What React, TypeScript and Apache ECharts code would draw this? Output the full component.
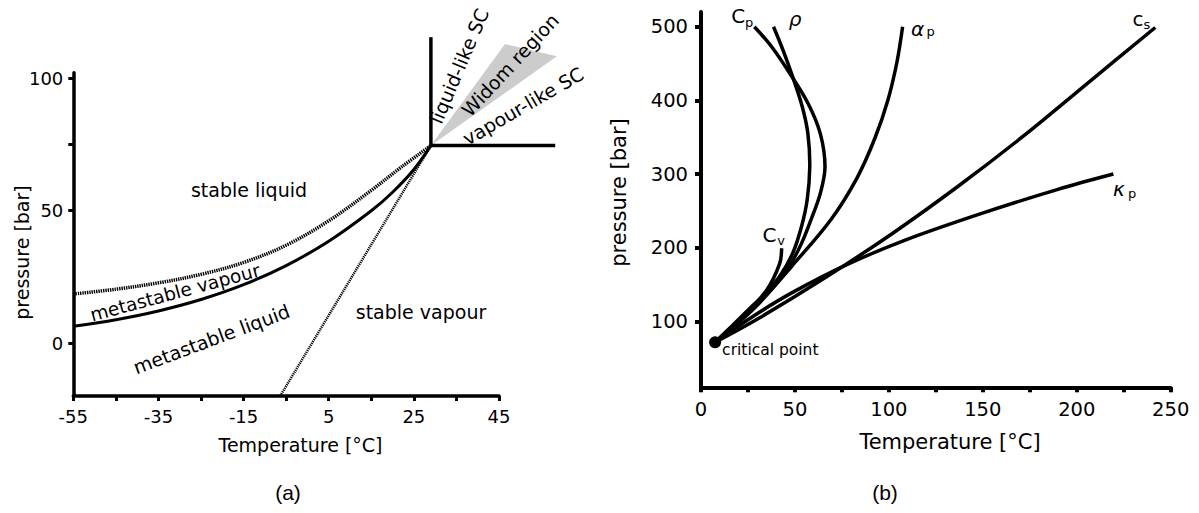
import React, { useEffect, useRef } from "react";
import * as echarts from "echarts";

// ---------- Panel (a): CO2 phase diagram ----------
const aXTicks = [-55, -45, -35, -25, -15, -5, 5, 15, 25, 35, 45];
const aXLabels = [-55, -35, -15, 5, 25, 45];
const aYTicks = [0, 50, 75, 100];
const aYLabels = [0, 50, 100];

const satT = [-55, -45, -35, -25, -15, -5, 5, 15, 20, 25, 29];
const satP = [6.3, 8.8, 12.1, 16.4, 22, 29.2, 38.4, 49.9, 56.9, 65.5, 74.5];

const spinT = [-55, -45, -35, -25, -15, -5, 5, 15, 22, 29];
const spinP = [18.5, 20.3, 22.7, 25.9, 30.4, 36.9, 46.1, 57.6, 66.3, 74.5];

const dottedLineT = [-6.4, 29];
const dottedLineP = [-20, 74.5];

const liquidSCT = [29, 29];
const liquidSCP = [74.5, 115.4];
const vapourSCT = [29, 58.2];
const vapourSCP = [74.5, 74.5];

const widomT = [29, 46.4, 58.6];
const widomP = [74.5, 112.8, 108.2];

// ---------- Panel (b): response-function maxima lines ----------
const bXTicks = [0, 25, 50, 75, 100, 125, 150, 175, 200, 225, 250];
const bXLabels = [0, 50, 100, 150, 200, 250];
const bYTicks = [100, 200, 300, 400, 500];

const critT = [7.5];
const critP = [72];

const cpT = [7.5, 15.2, 25.5, 38, 47.8, 53.5, 58.5, 63.5, 66, 63.5, 57, 46.7, 37.6, 28.4];
const cpP = [72, 91, 117, 147.5, 179, 206.2, 237.9, 274, 310, 355, 396, 439, 472.9, 500];

const rhoT = [7.5, 19.3, 31.5, 41.7, 48.8, 53.5, 56.5, 57.9, 56.9, 53.9, 48.8, 43.7, 38.6];
const rhoP = [72, 100, 129.4, 161, 192.7, 229, 265, 310, 355, 391.5, 432, 468, 500];

const cvT = [7.5, 20.8, 35, 41.9, 42.9];
const cvP = [72, 102.3, 143, 179, 199.5];

const alphaT = [7.5, 28.5, 48.4, 69, 83, 92.6, 99.5, 104.3, 107.3];
const alphaP = [72, 118.6, 175.5, 237.9, 294.8, 349.1, 400.7, 452.2, 500];

const csT = [7.5, 31, 66, 101.5, 136.5, 171.5, 206.5, 241.8];
const csP = [72, 105, 159.5, 219, 283, 351.5, 425, 499];

const kappaT = [7.5, 27.4, 47.8, 78.2, 108.7, 149.4, 190, 219.5];
const kappaP = [72, 106.8, 138.4, 178, 210.7, 246.9, 279.5, 300.2];

const zip = (xs: number[], ys: number[]) => xs.map((x, i) => [x, ys[i]]);

const FONT = "DejaVu Sans";

function txt(
  text: string,
  x: number,
  y: number,
  size: number,
  rotDeg = 0,
  extra: any = {}
) {
  return {
    type: "text",
    x,
    y,
    rotation: (rotDeg * Math.PI) / 180,
    z: 100,
    silent: true,
    style: {
      text,
      fill: "#000",
      fontSize: size,
      fontFamily: FONT,
      align: "center",
      verticalAlign: "middle",
      textAlign: "center",
      textVerticalAlign: "middle",
      ...extra,
    },
  };
}

function curve(
  T: number[],
  P: number[],
  axis: number,
  width: number,
  dash: number[] | null = null,
  smooth = 0.35,
  clip = true
) {
  return {
    type: "custom",
    xAxisIndex: axis,
    yAxisIndex: axis,
    clip,
    silent: true,
    z: 3,
    data: [[T[0], P[0]]],
    renderItem: (_params: any, api: any) => ({
      type: "polyline",
      shape: {
        points: T.map((t, i) => api.coord([t, P[i]])),
        smooth,
      },
      style: {
        stroke: "#000",
        fill: "none",
        lineWidth: width,
        lineDash: dash || undefined,
        lineCap: "butt",
        lineJoin: "round",
      },
    }),
  };
}

export default function App() {
  const ref = useRef<HTMLDivElement>(null);

  useEffect(() => {
    if (!ref.current) return;
    const chart = echarts.init(ref.current, undefined, { renderer: "svg" });

    const axisBase = (width: number) => ({
      axisLine: { show: true, onZero: false, lineStyle: { color: "#000", width } },
      splitLine: { show: false },
    });

    const option: any = {
      animation: false,
      backgroundColor: "#fff",
      grid: [
        { left: 73.3, top: 72.7, width: 425.7, height: 323.3 },
        { left: 701, top: 12, width: 469.7, height: 375.3 },
      ],
      xAxis: [
        {
          type: "value",
          gridIndex: 0,
          min: -55,
          max: 45,
          ...axisBase(3.5),
          axisTick: {
            show: true,
            customValues: aXTicks,
            length: 5,
            lineStyle: { color: "#000", width: 3 },
          },
          axisLabel: {
            customValues: aXLabels,
            margin: 11,
            fontSize: 18,
            color: "#000",
            fontFamily: FONT,
          },
        },
        {
          type: "value",
          gridIndex: 1,
          min: 0,
          max: 250,
          ...axisBase(4),
          axisTick: {
            show: true,
            customValues: bXTicks,
            length: 5,
            lineStyle: { color: "#000", width: 4 },
          },
          axisLabel: {
            customValues: bXLabels,
            margin: 12,
            fontSize: 19.5,
            color: "#000",
            fontFamily: FONT,
          },
        },
      ],
      yAxis: [
        {
          type: "value",
          gridIndex: 0,
          min: -20,
          max: 102,
          ...axisBase(3.5),
          axisTick: {
            show: true,
            customValues: aYTicks,
            length: 5,
            lineStyle: { color: "#000", width: 3 },
          },
          axisLabel: {
            customValues: aYLabels,
            margin: 10,
            fontSize: 18,
            color: "#000",
            fontFamily: FONT,
          },
        },
        {
          type: "value",
          gridIndex: 1,
          min: 11,
          max: 520,
          ...axisBase(4),
          axisTick: {
            show: true,
            customValues: bYTicks,
            length: 6,
            lineStyle: { color: "#000", width: 4 },
          },
          axisLabel: {
            customValues: bYTicks,
            margin: 13,
            fontSize: 19.5,
            color: "#000",
            fontFamily: FONT,
          },
        },
      ],
      series: [
        {
          type: "custom",
          xAxisIndex: 0,
          yAxisIndex: 0,
          clip: false,
          silent: true,
          z: 1,
          data: [[widomT[0], widomP[0]]],
          renderItem: (_params: any, api: any) => ({
            type: "polygon",
            shape: { points: widomT.map((t, i) => api.coord([t, widomP[i]])) },
            style: { fill: "#cccccc" },
          }),
        },
        curve(satT, satP, 0, 3),
        curve(spinT, spinP, 0, 3.5, [1.4, 0.9]),
        curve(dottedLineT, dottedLineP, 0, 2.5, [1.2, 0.9], 0),
        curve(liquidSCT, liquidSCP, 0, 3.5, null, 0, false),
        curve(vapourSCT, vapourSCP, 0, 3.5, null, 0, false),

        curve(cpT, cpP, 1, 3.5),
        curve(rhoT, rhoP, 1, 3.5),
        curve(cvT, cvP, 1, 3.5),
        curve(alphaT, alphaP, 1, 3.5),
        curve(csT, csP, 1, 3.5),
        curve(kappaT, kappaP, 1, 3.5),
        {
          type: "scatter",
          xAxisIndex: 1,
          yAxisIndex: 1,
          data: zip(critT, critP),
          symbol: "circle",
          symbolSize: 12,
          silent: true,
          itemStyle: { color: "#000", opacity: 1 },
          z: 5,
        },
      ],
      graphic: [
        // panel (a) axis titles
        txt("Temperature [°C]", 300.5, 445, 19),
        txt("pressure [bar]", 21.8, 252.5, 19, 90),
        // panel (a) region labels
        txt("stable liquid", 249, 190, 19),
        txt("metastable vapour", 175, 292.5, 18.5, 15),
        txt("metastable liquid", 211.5, 339, 19, 20.5),
        txt("stable vapour", 421, 312, 19),
        txt("liquid-like SC", 459, 66, 19, 67),
        txt("Widom region", 510, 65, 19, 47),
        txt("vapour-like SC", 523, 106, 19, 30),
        // panel (b) axis titles
        txt("Temperature [°C]", 950, 441.7, 21),
        txt("pressure [bar]", 619, 192.5, 21, 90),
        // panel (b) curve labels
        txt("C", 738.3, 15.8, 20),
        txt("p", 749, 22.5, 13),
        txt("ρ", 795, 19.3, 20, 0, { fontStyle: "italic" }),
        txt("α", 917.5, 28.5, 20, 0, { fontStyle: "italic" }),
        txt("p", 930.5, 31.3, 13),
        txt("c", 1138, 18.5, 20),
        txt("s", 1147, 24, 13),
        txt("κ", 1119, 188.5, 20, 0, { fontStyle: "italic" }),
        txt("p", 1132, 193.3, 13),
        txt("C", 769.5, 234.5, 20),
        txt("v", 781, 240, 13),
        txt("critical point", 770.3, 350.4, 15.5),
        // sub-figure captions
        txt("(a)", 288, 492, 21, 0, { fontFamily: "Liberation Sans" }),
        txt("(b)", 885, 492, 21, 0, { fontFamily: "Liberation Sans" }),
      ],
    };

    chart.setOption(option);
    return () => chart.dispose();
  }, []);

  return (
    <div
      ref={ref}
      style={{ position: "absolute", left: 0, top: 0, width: 1199, height: 513 }}
    />
  );
}
